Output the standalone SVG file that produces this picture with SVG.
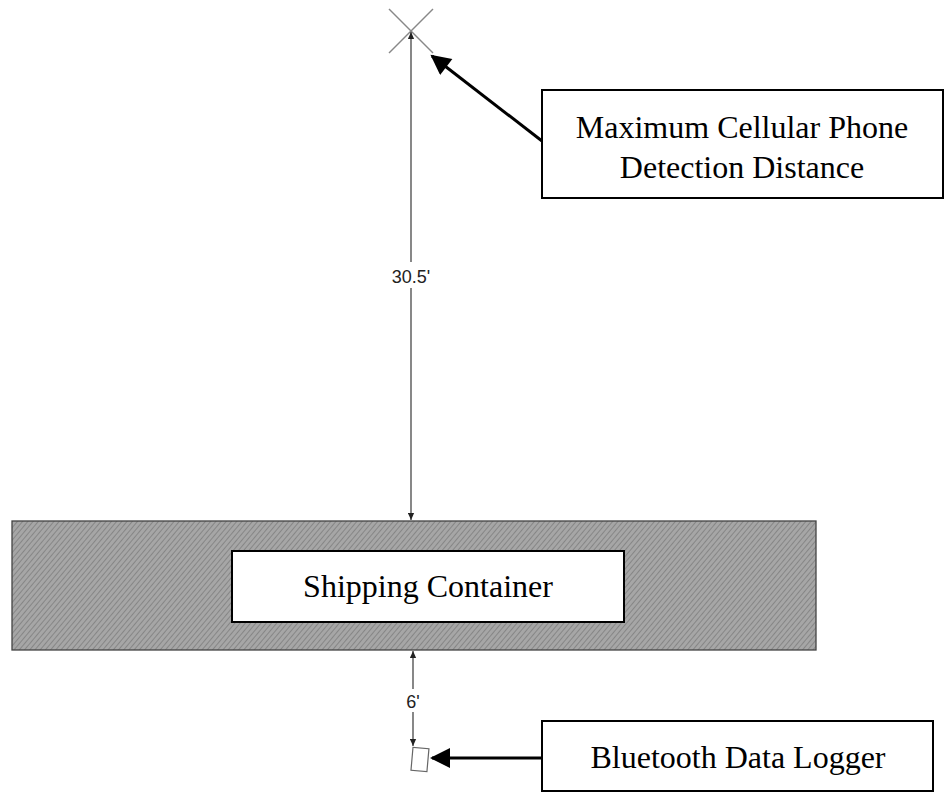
<svg xmlns="http://www.w3.org/2000/svg" width="946" height="792" viewBox="0 0 946 792">
<style>
.lbl{font-family:"Liberation Serif","Times New Roman",serif;font-size:32px;fill:#000;text-anchor:middle}
.dim{font-family:"Liberation Sans",Arial,sans-serif;font-size:18px;fill:#222;text-anchor:middle}
.box{fill:#fff;stroke:#000;stroke-width:2}
.dl{stroke:#555;stroke-width:1.4;fill:none}
.ptr{stroke:#000;stroke-width:3;fill:none}
</style>
<defs>
<pattern id="hatch" width="4" height="4" patternUnits="userSpaceOnUse" patternTransform="rotate(40)">
<rect width="4" height="4" fill="#a6a6a6"/>
<line x1="0" y1="0" x2="0" y2="4" stroke="#707070" stroke-width="1.2"/>
</pattern>
<marker id="da" viewBox="0 0 10 10" refX="10" refY="5" markerWidth="12" markerHeight="7" orient="auto-start-reverse" markerUnits="userSpaceOnUse">
<path d="M0,0.5 L10,5 L0,9.5 z" fill="#222"/>
</marker>
<marker id="pa" viewBox="0 0 10 10" refX="9" refY="5" markerWidth="22" markerHeight="20" orient="auto" markerUnits="userSpaceOnUse">
<path d="M0,0 L10,5 L0,10 z" fill="#000"/>
</marker>
</defs>
<g id="container">
<rect x="12" y="521" width="804" height="129" fill="url(#hatch)" stroke="#444" stroke-width="1.3"/>
<rect class="box" x="232" y="551" width="392" height="71" stroke-width="2.5"/>
<text class="lbl" x="428" y="597">Shipping Container</text>
</g>
<g id="max-point">
<line x1="389" y1="9" x2="433" y2="53" stroke="#888" stroke-width="1.5"/>
<line x1="433" y1="9" x2="389" y2="53" stroke="#888" stroke-width="1.5"/>
</g>
<g id="logger">
<rect x="412" y="748" width="16" height="23" fill="#fff" stroke="#666" stroke-width="1.2" transform="rotate(5 420 759)"/>
</g>
<g id="label-max">
<rect class="box" x="542" y="90" width="401" height="108"/>
<text class="lbl" x="742" y="138">Maximum Cellular Phone</text>
<text class="lbl" x="742" y="178">Detection Distance</text>
</g>
<g id="label-logger">
<rect class="box" x="542" y="721" width="391" height="70"/>
<text class="lbl" x="738" y="768">Bluetooth Data Logger</text>
</g>
<g id="connectors">
<line class="dl" x1="411" y1="32" x2="411" y2="262" marker-start="url(#da)"/>
<line class="dl" x1="411" y1="288" x2="411" y2="520" marker-end="url(#da)"/>
<text class="dim" x="411" y="283">30.5'</text>
<line class="dl" x1="413" y1="651" x2="413" y2="689" marker-start="url(#da)"/>
<line class="dl" x1="413" y1="712" x2="413" y2="746" marker-end="url(#da)"/>
<text class="dim" x="413" y="708">6'</text>
<line class="ptr" x1="542" y1="141" x2="432" y2="56" marker-end="url(#pa)"/>
<line class="ptr" x1="542" y1="758" x2="432" y2="758" marker-end="url(#pa)"/>
</g>
</svg>
